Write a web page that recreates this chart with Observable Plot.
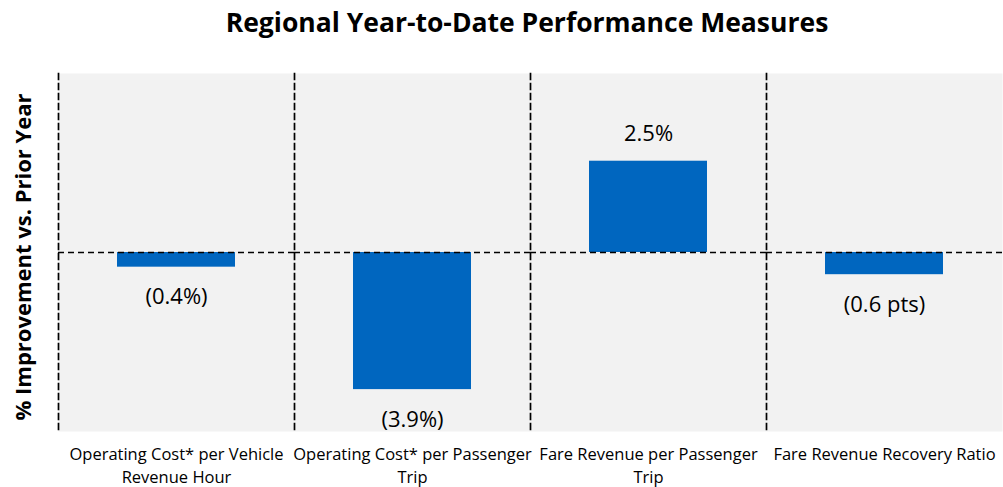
<!DOCTYPE html>
<html>
<head>
<meta charset="utf-8">
<script src="https://cdn.jsdelivr.net/npm/d3@7"></script>
<script src="https://cdn.jsdelivr.net/npm/@observablehq/plot@0.6"></script>
<style>
  html, body { margin: 0; padding: 0; background: #fff; }
  #wrap { position: relative; width: 1003px; height: 487px; font-family: "Open Sans", sans-serif; }
  #title { height: 48px; line-height: 44px; padding-left: 51px; text-align: center; font-weight: 700; font-size: 26.5px; color: #000; }
  #ylabel { position: absolute; left: 22px; top: 257px; transform: translate(-50%, -50%) rotate(-90deg); white-space: nowrap; font-weight: 700; font-size: 22px; color: #000; }
</style>
</head>
<body>
<div id="wrap">
  <div id="title">Regional Year-to-Date Performance Measures</div>
  <div id="chart"></div>
  <div id="ylabel">% Improvement vs. Prior Year</div>
</div>
<script>
const categories = [
  "Operating Cost* per Vehicle Revenue Hour",
  "Operating Cost* per Passenger Trip",
  "Fare Revenue per Passenger Trip",
  "Fare Revenue Recovery Ratio"
];
const tickLabels = [
  "Operating Cost* per Vehicle\nRevenue Hour",
  "Operating Cost* per Passenger\nTrip",
  "Fare Revenue per Passenger\nTrip",
  "Fare Revenue Recovery Ratio"
];
const values = [-0.41, -3.83, 2.55, -0.62];
const valueLabels = ["(0.4%)", "(3.9%)", "2.5%", "(0.6 pts)"];

const data = categories.map((c, i) => ({cat: c, value: values[i], label: valueLabels[i]}));

const dash = "6,4";
const chart = Plot.plot({
  width: 1003,
  height: 439,
  marginTop: 25,
  marginBottom: 56,
  marginLeft: 57,
  marginRight: 0,
  style: {fontFamily: "Open Sans, sans-serif", fontSize: "16px", background: "transparent", color: "#000"},
  fx: {domain: categories, padding: 0},
  x: {axis: null, paddingInner: 0, paddingOuter: 0.5},
  y: {axis: null, domain: [-5, 5]},
  marks: [
    Plot.frame({fill: "#f2f2f2", stroke: "none"}),
    Plot.barY(data, {fx: "cat", x: () => "bar", y: "value", fill: "#0066BF"}),
    Plot.ruleY([0], {stroke: "#000", strokeWidth: 1.6, strokeDasharray: dash}),
    Plot.frame({anchor: "left", stroke: "#000", strokeWidth: 1.7, strokeDasharray: dash}),
    Plot.text(data, {filter: d => d.value < 0, fx: "cat", x: () => "bar", y: "value", text: "label", dy: 30, fontSize: 22}),
    Plot.text(data, {filter: d => d.value >= 0, fx: "cat", x: () => "bar", y: "value", text: "label", dy: -27, fontSize: 22}),
    Plot.axisFx({anchor: "bottom", label: null, tickSize: 0, tickPadding: 13, fontSize: 16.5, lineHeight: 1.35,
      tickFormat: d => tickLabels[categories.indexOf(d)]})
  ]
});
document.getElementById("chart").appendChild(chart);
</script>
</body>
</html>
